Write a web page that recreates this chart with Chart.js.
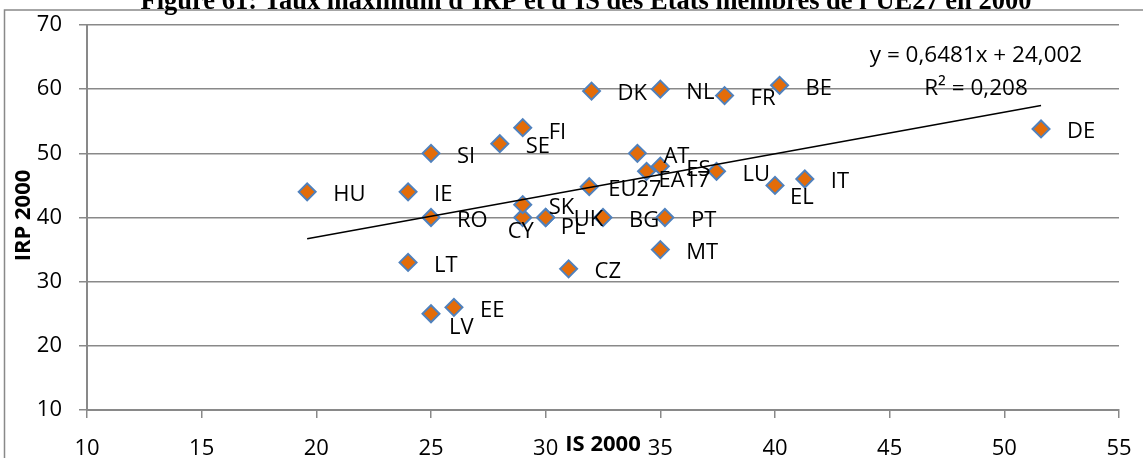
<!DOCTYPE html>
<html><head><meta charset="utf-8">
<script src="https://cdn.jsdelivr.net/npm/chart.js@4/dist/chart.umd.min.js"></script>
<style>html,body{margin:0;padding:0;background:#fff;overflow:hidden}#wrap{position:relative;width:1143px;height:458px}canvas{display:block}</style>
</head><body><div id="wrap"><canvas id="c" width="1143" height="458"></canvas></div>
<script>
// ---- data ----
const countries = ['BE','BG','CZ','DK','DE','EE','IE','EL','ES','FR','IT','CY','LV','LT','LU','HU','MT','NL','AT','PL','PT','RO','SI','SK','FI','SE','UK','EU27','EA17'];
const isRates  = [40.2,32.5,31,32,51.6,26,24,40,35,37.8,41.3,29,25,24,37.45,19.6,35,35,34,30,35.2,25,25,29,29,28,30,31.9,34.4];
const irpRates = [60.6,40,32,59.7,53.8,26,44,45,48,59,46,40,25,33,47.2,44,35,60,50,40,40,40,50,42,54,51.5,40,44.8,47.2];
const xTickValues = [10,15,20,25,30,35,40,45,50,55];
const yTickValues = [10,20,30,40,50,60,70];
const trendSlope = 0.6481;
const trendIntercept = 24.002;
const trendLabels = ['y = 0,6481x + 24,002', 'R\u00B2 = 0,208'];
const titleText = 'Figure 61: Taux maximum d\u2019IRP et d\u2019IS des Etats membres de l\u2019UE27 en 2000';
const xTitle = 'IS 2000';
const yTitle = 'IRP 2000';

// ---- style (label placement tweaks, px) ----
const labelPlacement = {
  EA17:{dx:12,dy:8}, EU27:{dx:19,dy:1}, CY:{dx:-2,dy:13,center:true}, PL:{dx:15,dy:9},
  UK:{dx:28,dy:1}, EL:{dx:15,dy:11}, LV:{dx:18,dy:12}, EE:{dx:26,dy:2}, FI:{dx:26,dy:3}
};
const FONT = '"Open Sans", "DejaVu Sans", sans-serif';
const GRID = '#898989';

const points = countries.map((c,i)=>({x:isRates[i], y:irpRates[i]}));
const xMin = Math.min(...isRates), xMax = Math.max(...isRates);
const trendPoints = [xMin, xMax].map(x=>({x, y: trendSlope*x + trendIntercept}));

const extras = {
  id:'extras',
  beforeDraw(chart){
    const ctx = chart.ctx;
    ctx.save();
    ctx.fillStyle = '#fff';
    ctx.fillRect(0,0,chart.width,chart.height);
    ctx.strokeStyle = GRID; ctx.lineWidth = 1.5;
    ctx.strokeRect(4.5,10,1150,460);
    ctx.fillStyle = '#000';
    ctx.font = 'bold 26.5px "Liberation Serif", serif';
    ctx.textAlign = 'center'; ctx.textBaseline = 'alphabetic';
    ctx.fillText(titleText, 586, 9);
    ctx.restore();
  },
  afterDatasetsDraw(chart){
    const ctx = chart.ctx, xs = chart.scales.x, ys = chart.scales.y;
    ctx.save();
    ctx.fillStyle = '#000';
    ctx.font = '22px ' + FONT;
    ctx.textBaseline = 'alphabetic';
    const capHalf = 7.9;
    countries.forEach((c,i)=>{
      const px = xs.getPixelForValue(isRates[i]);
      const py = ys.getPixelForValue(irpRates[i]);
      const p = labelPlacement[c] || {dx:26, dy:1.5};
      ctx.textAlign = p.center ? 'center' : 'left';
      ctx.fillText(c, px + p.dx, py + p.dy + capHalf);
    });
    ctx.textAlign = 'center';
    ctx.font = '22.5px ' + FONT;
    ctx.fillText(trendLabels[0], 976, 54 + capHalf);
    ctx.fillText(trendLabels[1], 976, 87 + capHalf);
    ctx.font = 'bold 22px ' + FONT;
    ctx.fillText(xTitle, 603, 443 + capHalf);
    ctx.translate(22.5, 215.5);
    ctx.rotate(-Math.PI/2);
    ctx.fillText(yTitle, 0, capHalf);
    ctx.restore();
  }
};

new Chart(document.getElementById('c'), {
  type:'scatter',
  data:{ datasets:[
    { type:'line', data: trendPoints, borderColor:'#000', borderWidth:1.5, pointRadius:0, fill:false, order:0 },
    { data: points, pointStyle:'rectRot', pointRadius:8.5, pointHoverRadius:8.5,
      backgroundColor:'#E36C09', borderColor:'#4F81BD', borderWidth:2, order:1 }
  ]},
  options:{
    responsive:false, animation:false, devicePixelRatio:1,
    layout:{ padding:{ top:25, right:24, left:0, bottom:0 } },
    plugins:{ legend:{display:false}, tooltip:{enabled:false}, title:{display:false} },
    events:[],
    scales:{
      x:{ type:'linear', min:10, max:55,
          afterBuildTicks(s){ s.ticks = xTickValues.map(v=>({value:v})); },
          afterFit(s){ s.height = 48; s.paddingLeft = 0; s.paddingRight = 0; },
          ticks:{ font:{family:FONT, size:22}, color:'#000', padding:18, maxRotation:0, autoSkip:false },
          grid:{ drawOnChartArea:false, drawTicks:true, tickLength:8, color:GRID, lineWidth:1.5 },
          border:{ color:GRID, width:2 } },
      y:{ type:'linear', min:10, max:70,
          afterBuildTicks(s){ s.ticks = yTickValues.map(v=>({value:v})); },
          afterFit(s){ s.width = 87; s.paddingTop = 0; s.paddingBottom = 0; },
          ticks:{ font:{family:FONT, size:22}, color:'#000', padding:17 },
          grid:{ drawTicks:true, tickLength:8, color:GRID, lineWidth:1.5 },
          border:{ color:GRID, width:2 } }
    }
  },
  plugins:[extras]
});
</script></body></html>
